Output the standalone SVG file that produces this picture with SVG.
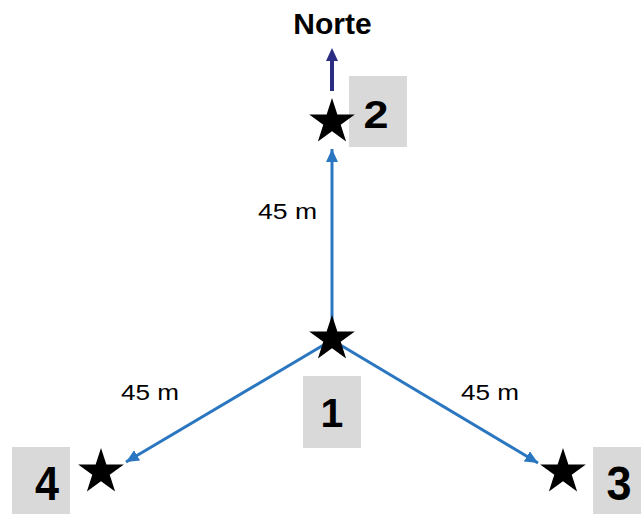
<svg xmlns="http://www.w3.org/2000/svg" xmlns:xlink="http://www.w3.org/1999/xlink" width="641" height="514" viewBox="0 0 641 514">
<style>
.conn{stroke:#2a76c0;stroke-width:3;fill:none}
.box{fill:#d9d9d9}
.num{font-family:"Liberation Sans",Arial,sans-serif;font-weight:bold;fill:#000;text-anchor:middle}
.lbl{font-family:"Liberation Sans",Arial,sans-serif;font-size:22px;fill:#000}
.star{fill:#000}
</style>
<defs>
<marker id="ab" markerUnits="userSpaceOnUse" markerWidth="14" markerHeight="12" viewBox="0 0 14 12" refX="13" refY="6" orient="auto">
<path d="M0,0 L13,6 L0,12 Z" fill="#2a76c0"/>
</marker>
<path id="st" d="M0,-24 L5.39,-7.42 L22.83,-7.42 L8.72,2.83 L14.11,19.42 L0,9.17 L-14.11,19.42 L-8.72,2.83 L-22.83,-7.42 L-5.39,-7.42 Z"/>
</defs>
<rect width="641" height="514" fill="#fff"/>
<g id="connectors">
<line class="conn" x1="332" y1="332" x2="332" y2="149" marker-end="url(#ab)"/>
<line class="conn" x1="332" y1="340" x2="126" y2="462" marker-end="url(#ab)"/>
<line class="conn" x1="332" y1="340" x2="538" y2="463" marker-end="url(#ab)"/>
</g>
<g id="north">
<line x1="332" y1="91" x2="332" y2="58" stroke="#2b2d83" stroke-width="4"/>
<path d="M326,61 L332,48 L338,61 Z" fill="#2b2d83"/>
<text x="332.5" y="34" class="num" style="font-size:30px">Norte</text>
</g>
<g id="node2">
<rect class="box" x="349" y="76" width="58" height="71"/>
<use href="#st" xlink:href="#st" class="star" x="332" y="122"/>
<text class="num" x="376" y="128" style="font-size:39px" textLength="25" lengthAdjust="spacingAndGlyphs">2</text>
</g>
<g id="node1">
<rect class="box" x="303" y="376" width="58" height="72"/>
<use href="#st" xlink:href="#st" class="star" x="332" y="339"/>
<text class="num" x="332" y="427" style="font-size:41px">1</text>
</g>
<g id="node4">
<rect class="box" x="12" y="447" width="58" height="67"/>
<use href="#st" xlink:href="#st" class="star" x="101" y="472"/>
<text class="num" x="47" y="500" style="font-size:48px" textLength="24" lengthAdjust="spacingAndGlyphs">4</text>
</g>
<g id="node3">
<rect class="box" x="593" y="447" width="48" height="67"/>
<use href="#st" xlink:href="#st" class="star" x="563" y="472"/>
<text class="num" x="619" y="500" style="font-size:48px" textLength="25" lengthAdjust="spacingAndGlyphs">3</text>
</g>
<g id="labels">
<text class="lbl" x="258" y="219" textLength="59" lengthAdjust="spacingAndGlyphs">45 m</text>
<text class="lbl" x="121" y="400" textLength="58" lengthAdjust="spacingAndGlyphs">45 m</text>
<text class="lbl" x="461" y="400" textLength="58" lengthAdjust="spacingAndGlyphs">45 m</text>
</g>
</svg>
